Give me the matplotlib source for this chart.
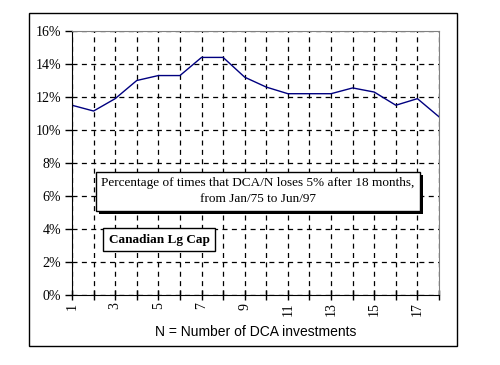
import matplotlib.pyplot as plt
from matplotlib.patches import Rectangle

# DCA/N loss frequency, Canadian Lg Cap
n_invest = list(range(1, 19))
pct_loss = [11.5, 11.15, 11.9, 13.0, 13.3, 13.3, 14.4, 14.4, 13.2,
            12.6, 12.2, 12.2, 12.2, 12.55, 12.3, 11.5, 11.9, 10.8]
y_ticks = [0, 2, 4, 6, 8, 10, 12, 14, 16]
x_labels = ['1', '', '3', '', '5', '', '7', '', '9', '', '11', '', '13', '', '15', '', '17', '']

fig = plt.figure(figsize=(5, 3.65), dpi=100)
ax = fig.add_axes([0.144, 0.192, 0.734, 0.723])

# outer chart frame
fig.patches.append(Rectangle((29 / 500, 1 - 346 / 365), (457 - 29) / 500, (346 - 13) / 365,
                             transform=fig.transFigure, fill=False, edgecolor='black', lw=1))

ax.plot(n_invest, pct_loss, color='#000080', lw=1)

ax.set_xlim(1, 18)
ax.set_ylim(0, 16)
ax.set_yticks(y_ticks)
ax.set_yticklabels([f'{v}%' for v in y_ticks], family='Liberation Serif', fontsize=10)
ax.set_xticks(n_invest)
ax.set_xticklabels(x_labels, rotation=90, family='Liberation Serif', fontsize=10)
ax.tick_params(axis='x', direction='inout', length=7, width=1, pad=2)
ax.tick_params(axis='y', direction='out', length=5, width=1, pad=3)

ax.grid(True, color='black', linestyle=(0, (4, 3.5)), lw=0.9)
for s in ['top', 'right']:
    ax.spines[s].set_color('#808080')
for s in ['left', 'bottom']:
    ax.spines[s].set_color('black')

ax.set_xlabel('N = Number of DCA investments', family='Liberation Sans', fontsize=10, labelpad=6)

# note box, drop shadow added after a draw
note = 'Percentage of times that DCA/N loses 5% after 18 months,\nfrom Jan/75 to Jun/97'
t = ax.text(0.507, 0.392, note, transform=ax.transAxes, ha='center', va='center',
            multialignment='center', linespacing=1.45,
            family='Liberation Serif', fontsize=9.5, zorder=5,
            bbox=dict(boxstyle='square,pad=0.4', facecolor='white', edgecolor='black', lw=1))

ax.text(0.237, 0.21, 'Canadian Lg Cap', transform=ax.transAxes, ha='center', va='center',
        family='Liberation Serif', fontsize=9.5, fontweight='bold', zorder=5,
        bbox=dict(boxstyle='square,pad=0.4', facecolor='white', edgecolor='black', lw=1))

fig.canvas.draw()
bb = t.get_bbox_patch().get_window_extent().transformed(fig.transFigure.inverted())
shadow = Rectangle((bb.x0 + 3 / 500, bb.y0 - 3 / 365), bb.width, bb.height,
                   transform=fig.transFigure, facecolor='black', edgecolor='none', zorder=4.5)
ax.add_artist(shadow)

fig.savefig('out.png', dpi=100)
